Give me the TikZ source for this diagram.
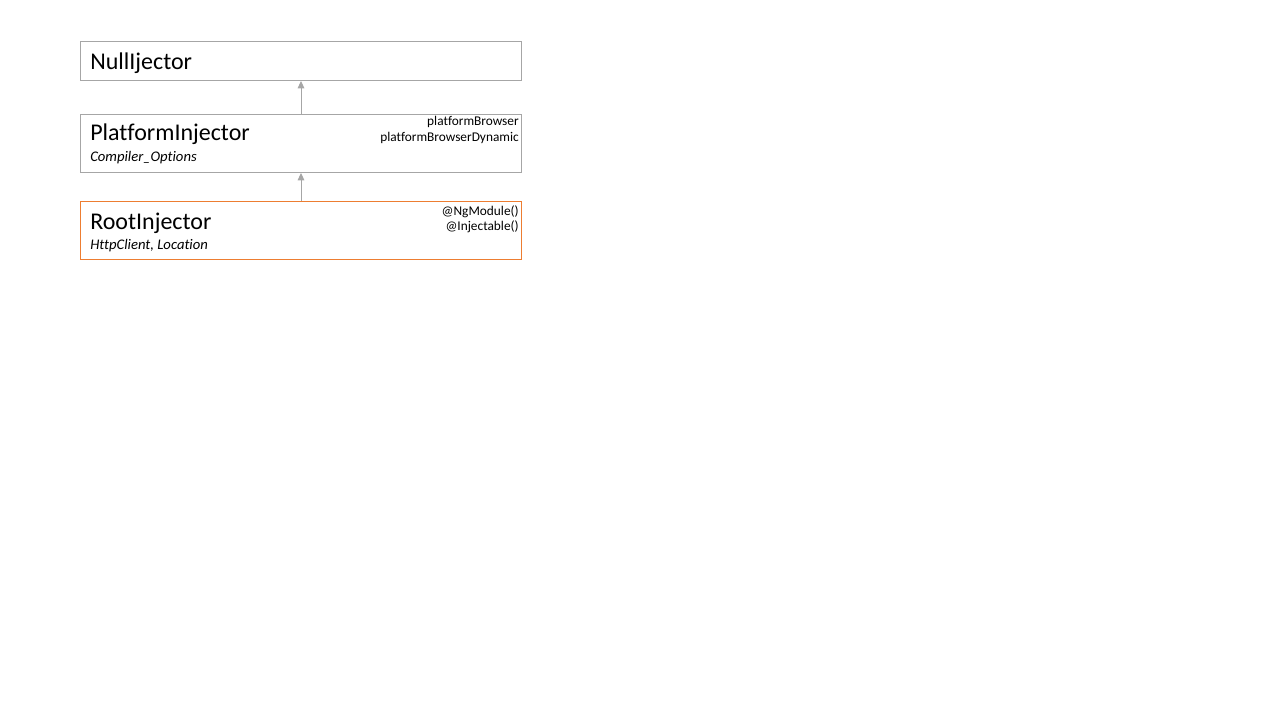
\documentclass[tikz,border=0pt]{standalone}
\usepackage{fontspec}
\setmainfont{Carlito}[Ligatures=NoCommon]
\usetikzlibrary{arrows.meta}
\definecolor{boxgray}{HTML}{A6A6A6}
\definecolor{rootorange}{HTML}{ED7D31}
\tikzset{
    layer/.style={draw=boxgray, line width=0.75pt, minimum width=330.75pt, inner sep=0pt, anchor=north west},
    title/.style={anchor=base west, inner sep=0pt, font=\fontsize{18}{22}\selectfont},
    sub/.style={anchor=base west, inner sep=0pt, font=\fontsize{11}{13}\selectfont\itshape},
    tag/.style={anchor=base east, inner sep=0pt, font=\fontsize{10}{12}\selectfont},
    up/.style={draw=boxgray, line width=0.75pt, -{Triangle[width=5pt,length=5.5pt]}}
}
\begin{document}
\begin{tikzpicture}[x=0.75pt, y=-0.75pt]
    \useasboundingbox (0,0) rectangle (1280,720);
    \node[layer, minimum height=29.25pt] (null) at (80,41) {};
    \node[layer, minimum height=43.5pt] (platform) at (80,114) {};
    \node[layer, draw=rootorange, minimum height=43.5pt] (root) at (80,201) {};

    \draw[up] (platform.north) -- (null.south);
    \draw[up] (root.north) -- (platform.south);

    \node[title] (nulltitle) at (90,69.5) {NullIjector};
    \node[title] (platformtitle) at (90,141) {PlatformInjector};
    \node[sub] (platformsub) at (90,162) {Compiler\_Options};
    \node[tag] (browser) at (519,126) {platformBrowser};
    \node[tag] (dynamic) at (519,142) {platformBrowserDynamic};
    \node[title] (roottitle) at (90,229) {RootInjector};
    \node[sub] (rootsub) at (90,249) {HttpClient, Location};
    \node[tag] (ngmodule) at (519,215) {@NgModule()};
    \node[tag] (injectable) at (519,231) {@Injectable()};
\end{tikzpicture}
\end{document}
